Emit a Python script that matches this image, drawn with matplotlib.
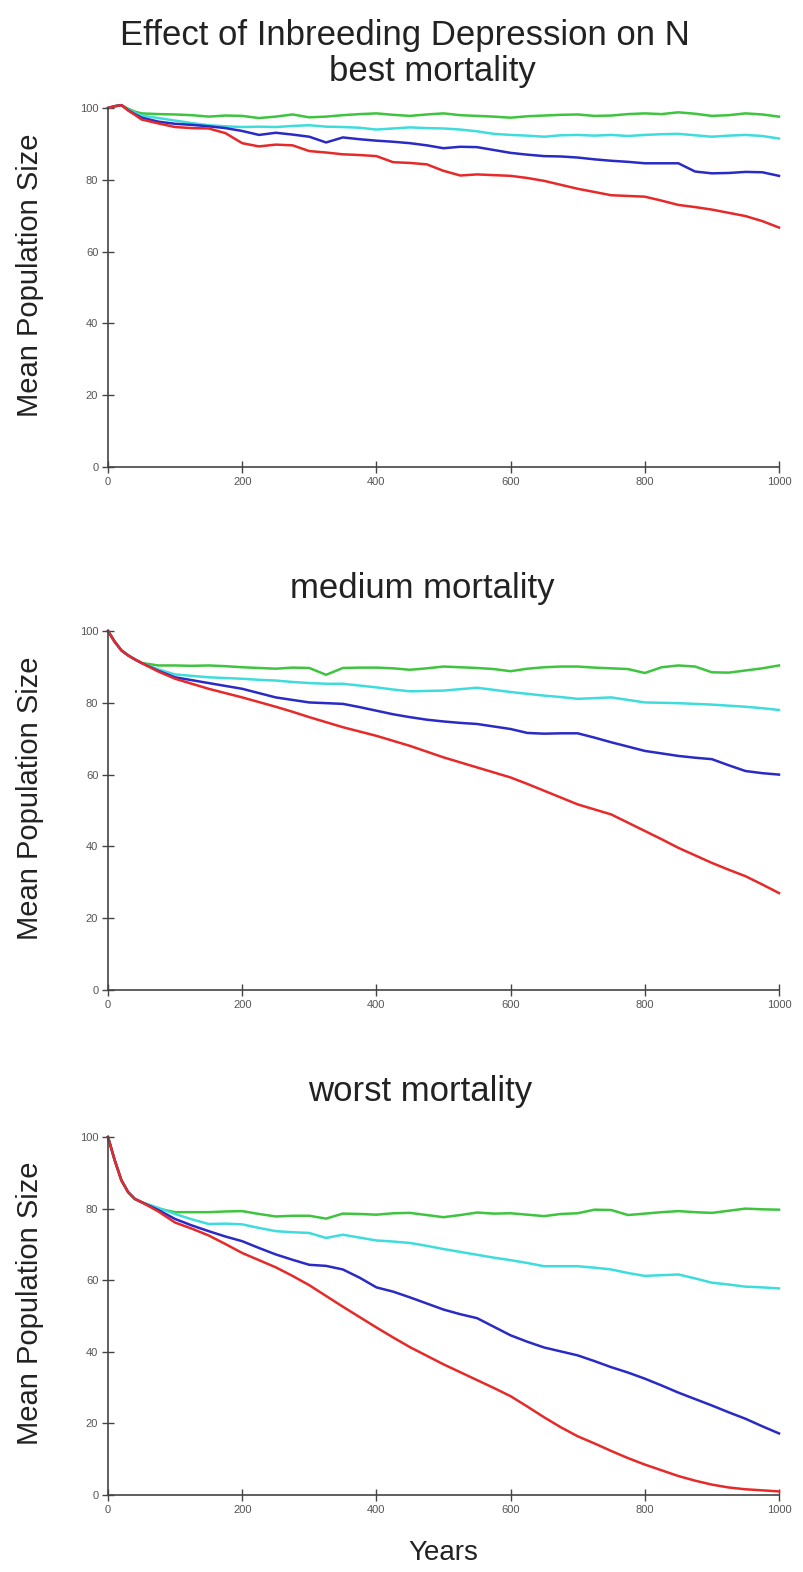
import matplotlib
matplotlib.use("Agg")
import matplotlib.pyplot as plt

years = [0, 10, 20, 30, 40, 50, 75, 100, 125, 150, 175, 200, 225, 250, 275, 300, 325, 350, 375, 400,
         425, 450, 475, 500, 525, 550, 575, 600, 625, 650, 675, 700, 725, 750, 775, 800, 825, 850,
         875, 900, 925, 950, 975, 1000]

# best mortality
best_green = [100, 100.5, 100.8, 99.8, 99, 98.5, 98.3, 98.2, 98, 97.6, 97.9, 97.8, 97.2, 97.6, 98.2, 97.4,
              97.6, 98, 98.3, 98.5, 98.1, 97.8, 98.2, 98.5, 98, 97.8, 97.6, 97.3, 97.7, 97.9, 98.1, 98.2,
              97.8, 97.9, 98.3, 98.5, 98.3, 98.8, 98.4, 97.8, 98, 98.5, 98.2, 97.6]
best_cyan = [100, 100.5, 100.8, 99.6, 98.7, 97.9, 97.2, 96.5, 95.8, 95.2, 94.9, 94.7, 94.8, 94.7, 95, 95.2,
             94.8, 94.7, 94.5, 94, 94.3, 94.6, 94.4, 94.3, 94, 93.5, 92.8, 92.5, 92.3, 92, 92.4, 92.5,
             92.3, 92.5, 92.2, 92.5, 92.7, 92.8, 92.4, 92, 92.3, 92.5, 92.2, 91.5]
best_blue = [100, 100.5, 100.8, 99.4, 98.3, 97.3, 96.2, 95.6, 95.3, 94.9, 94.4, 93.6, 92.5, 93.1, 92.6, 92,
             90.4, 91.8, 91.3, 90.9, 90.6, 90.2, 89.6, 88.8, 89.2, 89.1, 88.3, 87.5, 87, 86.6, 86.5, 86.2,
             85.7, 85.3, 85, 84.6, 84.6, 84.6, 82.3, 81.8, 81.9, 82.2, 82.1, 81.1]
best_red = [100, 100.5, 100.8, 99.3, 98.1, 96.8, 95.7, 94.7, 94.4, 94.3, 93, 90.2, 89.3, 89.8, 89.6, 88,
            87.6, 87.1, 86.9, 86.6, 84.9, 84.7, 84.3, 82.5, 81.2, 81.5, 81.3, 81.1, 80.5, 79.7, 78.6, 77.5,
            76.6, 75.7, 75.5, 75.3, 74.2, 73, 72.4, 71.7, 70.8, 69.9, 68.5, 66.7]

# medium mortality
med_green = [100, 97, 94.6, 93.2, 92.1, 91.1, 90.4, 90.4, 90.3, 90.4, 90.2, 89.9, 89.7, 89.5, 89.8, 89.7,
             87.8, 89.7, 89.8, 89.8, 89.6, 89.2, 89.6, 90.1, 89.9, 89.7, 89.4, 88.8, 89.5, 89.9, 90.1, 90.1,
             89.8, 89.6, 89.4, 88.3, 89.9, 90.4, 90.1, 88.5, 88.4, 89, 89.6, 90.4]
med_cyan = [100, 97, 94.6, 93.2, 92.1, 91.1, 89.3, 87.9, 87.5, 87.1, 86.9, 86.7, 86.4, 86.2, 85.8, 85.5,
            85.3, 85.3, 84.8, 84.3, 83.7, 83.2, 83.3, 83.4, 83.8, 84.2, 83.6, 83, 82.5, 82, 81.6, 81.1,
            81.3, 81.5, 80.8, 80.1, 80, 79.9, 79.7, 79.5, 79.2, 78.9, 78.5, 78]
med_blue = [100, 97, 94.6, 93.2, 92.1, 91.1, 88.9, 87.1, 86.3, 85.5, 84.7, 83.9, 82.7, 81.5, 80.8, 80.1,
            79.9, 79.7, 78.8, 77.8, 76.8, 76, 75.3, 74.8, 74.4, 74.1, 73.4, 72.7, 71.6, 71.4, 71.5, 71.5,
            70.3, 69, 67.8, 66.6, 65.9, 65.2, 64.7, 64.3, 62.6, 61, 60.4, 60]
med_red = [100, 97, 94.6, 93.2, 92.1, 91.1, 88.7, 86.7, 85.3, 83.9, 82.7, 81.5, 80.2, 78.9, 77.5, 76,
           74.6, 73.2, 72, 70.8, 69.4, 68, 66.4, 64.8, 63.4, 62, 60.6, 59.2, 57.4, 55.5, 53.6, 51.7,
           50.3, 48.9, 46.6, 44.3, 42, 39.6, 37.5, 35.4, 33.5, 31.7, 29.4, 27]

# worst mortality
worst_green = [100, 93.5, 87.9, 84.6, 82.7, 81.8, 80, 79, 79, 79, 79.2, 79.3, 78.5, 77.8, 78, 78,
               77.2, 78.6, 78.5, 78.3, 78.7, 78.8, 78.2, 77.6, 78.2, 78.9, 78.6, 78.7, 78.3, 77.9, 78.5, 78.7,
               79.7, 79.6, 78.2, 78.6, 79, 79.3, 79, 78.8, 79.4, 80, 79.8, 79.7]
worst_cyan = [100, 93.5, 87.9, 84.6, 82.7, 81.8, 80.2, 78.5, 77, 75.7, 75.8, 75.6, 74.6, 73.7, 73.4, 73.2,
              71.8, 72.7, 71.9, 71.1, 70.8, 70.4, 69.6, 68.7, 67.9, 67.1, 66.3, 65.6, 64.8, 63.9, 63.9, 63.9,
              63.5, 63, 62, 61.2, 61.4, 61.6, 60.5, 59.3, 58.8, 58.2, 58, 57.7]
worst_blue = [100, 93.5, 87.9, 84.6, 82.7, 81.8, 79.6, 77.1, 75.3, 73.7, 72.2, 70.9, 69, 67.2, 65.7, 64.3,
              64, 63, 60.7, 58, 56.8, 55.2, 53.5, 51.8, 50.5, 49.4, 47, 44.6, 42.8, 41.2, 40.1, 39,
              37.4, 35.7, 34.2, 32.5, 30.6, 28.6, 26.8, 25, 23.1, 21.3, 19.2, 17.2]
worst_red = [100, 93.5, 87.9, 84.6, 82.7, 81.8, 79.2, 76.1, 74.4, 72.5, 70.1, 67.6, 65.6, 63.6, 61.2, 58.6,
             55.6, 52.6, 49.7, 46.8, 44, 41.3, 38.9, 36.5, 34.3, 32.1, 29.9, 27.6, 24.7, 21.7, 18.9, 16.4,
             14.4, 12.3, 10.3, 8.5, 6.9, 5.3, 4, 2.9, 2.1, 1.6, 1.3, 1.0]

panel_titles = ["best mortality", "medium mortality", "worst mortality"]
main_title = "Effect of Inbreeding Depression on N"
y_label = "Mean Population Size"
x_label = "Years"
x_ticks = [0, 200, 400, 600, 800, 1000]
y_ticks = [0, 20, 40, 60, 80, 100]

panels = [
    [best_green, best_cyan, best_blue, best_red],
    [med_green, med_cyan, med_blue, med_red],
    [worst_green, worst_cyan, worst_blue, worst_red],
]
colors = ["#3ec43e", "#3fdcdc", "#2a2ac4", "#e62a2a"]

plt.rcParams['font.family'] = ['Liberation Sans', 'DejaVu Sans']

W, H = 804, 1572
fig = plt.figure(figsize=(W / 100, H / 100), dpi=100)
fig.patch.set_facecolor('white')

ax_left, ax_right = 108, 779
panel_px = [(108, 467), (631, 990), (1137, 1495)]
title_y = [72, 589, 1091]
title_x = [432, 422, 420]

fig.text(405 / W, 1 - 35 / H, main_title, ha='center', va='center', fontsize=25, color='#222222')

for i, (top, bot) in enumerate(panel_px):
    ax = fig.add_axes([ax_left / W, 1 - bot / H, (ax_right - ax_left) / W, (bot - top) / H])
    for series, c in zip(panels[i], colors):
        ax.plot(years, series, color=c, lw=1.8, clip_on=False, solid_joinstyle='round')
    ax.set_xlim(0, 1000)
    ax.set_ylim(0, 100)
    for s in ['top', 'right']:
        ax.spines[s].set_visible(False)
    for s in ['left', 'bottom']:
        ax.spines[s].set_color('#444444')
        ax.spines[s].set_linewidth(1.2)
    ax.set_xticks(x_ticks)
    ax.set_yticks(y_ticks)
    ax.tick_params(direction='inout', length=8, width=1.0, color='#444444',
                   labelsize=8, labelcolor='#555555', pad=3)
    ax.set_ylabel(y_label, fontsize=21, color='#222222')
    ax.yaxis.set_label_coords(-0.095, 0.535)
    fig.text(title_x[i] / W, 1 - title_y[i] / H, panel_titles[i], ha='center', va='center',
             fontsize=25, color='#222222')

fig.text(443 / W, 1 - 1553 / H, x_label, ha='center', va='center', fontsize=20, color='#222222')

fig.savefig("out.png", dpi=100, facecolor='white')
